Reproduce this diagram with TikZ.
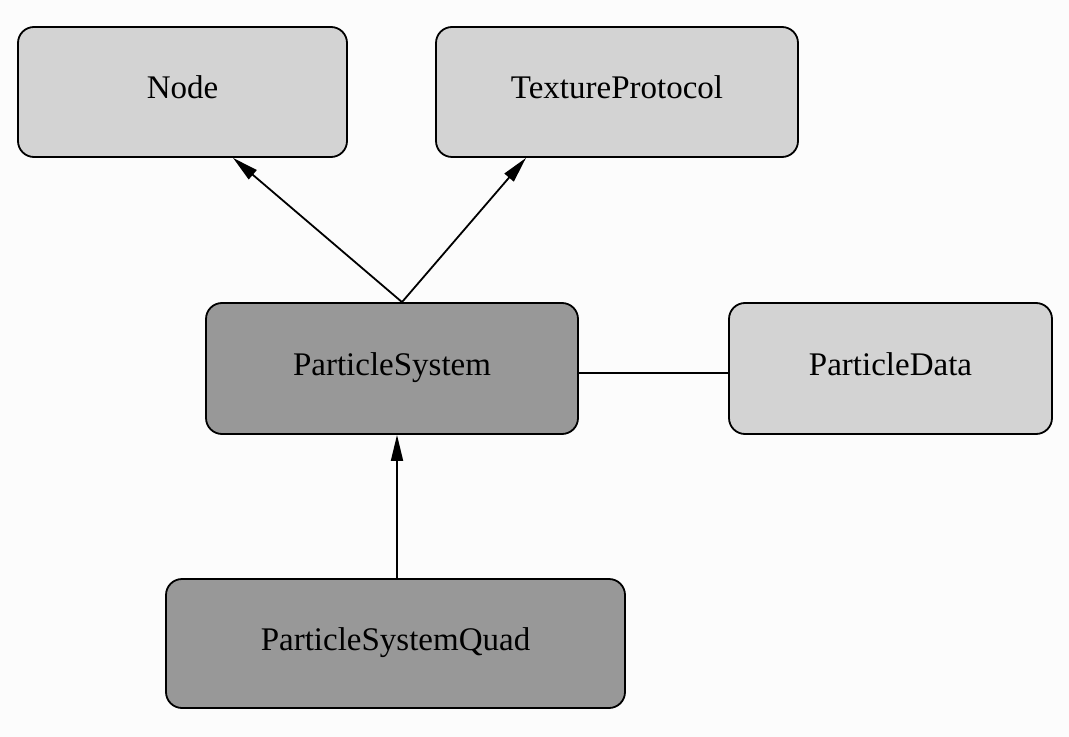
\documentclass[tikz,border=0pt]{standalone}
\usepackage{fontspec}
\setmainfont{Liberation Serif}
\usetikzlibrary{arrows.meta}
\definecolor{bgc}{HTML}{FCFCFC}
\definecolor{lightbox}{HTML}{D3D3D3}
\definecolor{darkbox}{HTML}{989898}
\tikzset{
  cls/.style={draw=black, line width=0.9pt, rounded corners=8pt, inner sep=0pt,
    text height=12pt, text depth=5.5pt, font=\fontsize{16.5}{20}\selectfont},
  lightcls/.style={cls, fill=lightbox},
  darkcls/.style={cls, fill=darkbox},
  inherit/.style={draw=black, line width=0.9pt, -{Triangle[length=13pt,width=6pt]}},
  assoc/.style={draw=black, line width=0.9pt}
}
\begin{document}
\begin{tikzpicture}[x=0.5pt, y=-0.5pt]
\fill[bgc] (0,0) rectangle (1069,737);
\useasboundingbox (0,0) rectangle (1069,737);
\node[lightcls, minimum width=164.5pt, minimum height=65pt] (node) at (182.5,92) {Node};
\node[lightcls, minimum width=181pt, minimum height=65pt] (tex) at (617,92) {TextureProtocol};
\node[darkcls, minimum width=186pt, minimum height=65.5pt] (ps) at (392,368.5) {ParticleSystem};
\node[lightcls, minimum width=161.5pt, minimum height=65.5pt] (pd) at (890.5,368.5) {ParticleData};
\node[darkcls, minimum width=229.5pt, minimum height=64.5pt] (psq) at (395.5,643.5) {ParticleSystemQuad};
\draw[inherit] ([xshift=5pt]ps.north) -- ([xshift=25.25pt]node.south);
\draw[inherit] ([xshift=5pt]ps.north) -- ([xshift=-45.5pt]tex.south);
\draw[inherit] ([xshift=0.75pt]psq.north) -- ([xshift=2.5pt]ps.south);
\draw[assoc] ([yshift=-2.25pt]ps.east) -- ([yshift=-2.25pt]pd.west);
\end{tikzpicture}
\end{document}
